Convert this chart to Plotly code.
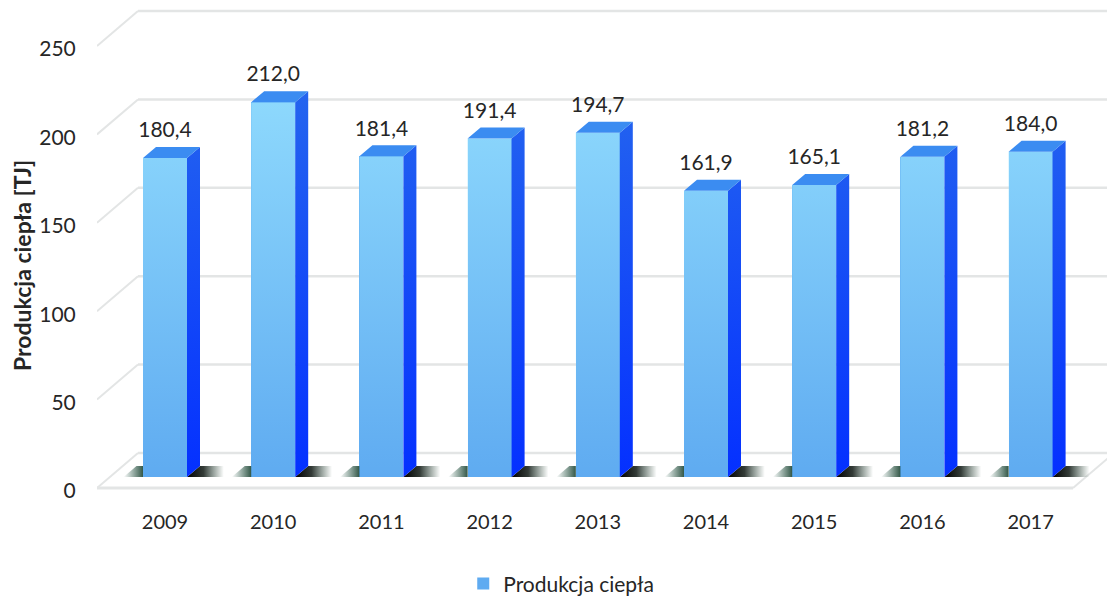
import plotly.graph_objects as go

# ---------------- data ----------------
years = ["2009", "2010", "2011", "2012", "2013", "2014", "2015", "2016", "2017"]
values = [180.4, 212.0, 181.4, 191.4, 194.7, 161.9, 165.1, 181.2, 184.0]
value_labels = ["180,4", "212,0", "181,4", "191,4", "194,7", "161,9", "165,1", "181,2", "184,0"]
y_ticks = [0, 50, 100, 150, 200, 250]
series_name = "Produkcja ciepła"
y_title = "Produkcja ciepła [TJ]"

# ---------------- geometry / style ----------------
PX_X = 108.2          # pixels per category
PX_Y = 1.768          # pixels per unit
BAR_W = 44 / PX_X     # bar width in category units
DX = 13 / PX_X        # bar depth (x)
DY = 11 / PX_Y        # bar depth (y)
BACK_DY = 24 / PX_Y   # back wall offset vs bar plane
FRONT_DY = -11 / PX_Y # floor front offset vs bar plane
LABEL_SHIFT = 14 / PX_Y
FONT = "Lato"
TXT = "#262626"

x_pos = list(range(len(years)))
x_min = (97 - 165) / PX_X
x_max = (1107 - 165) / PX_X
plot_h = 602 - 110
y_min = -(plot_h - 477) / PX_Y
y_max = 477 / PX_Y

xl_front = x_min
xl_back = x_min + (41 / PX_X)
xr_front = (1073 - 165) / PX_X
xr_back = xr_front + 41 / PX_X

fig = go.Figure()

# ---------------- walls & floor (shapes below traces) ----------------
grid_col = "#e3e5e5"
shapes = []
for v in y_ticks:
    shapes.append(dict(type="line", xref="x", yref="y", layer="below",
                       x0=xl_back, y0=v + BACK_DY, x1=xr_back, y1=v + BACK_DY,
                       line=dict(color=grid_col, width=2.5)))
    shapes.append(dict(type="line", xref="x", yref="y", layer="below",
                       x0=xl_front, y0=v + FRONT_DY, x1=xl_back, y1=v + BACK_DY,
                       line=dict(color=grid_col, width=2)))
shapes.append(dict(type="line", xref="x", yref="y", layer="below",
                   x0=xl_front, y0=FRONT_DY, x1=xr_front, y1=FRONT_DY,
                   line=dict(color=grid_col, width=3)))
shapes.append(dict(type="line", xref="x", yref="y", layer="below",
                   x0=xr_front, y0=FRONT_DY, x1=xr_back, y1=BACK_DY,
                   line=dict(color=grid_col, width=2)))

# ---------------- floor shadows ----------------
for xi in x_pos:
    xr = xi + BAR_W / 2
    xl = xi - BAR_W / 2
    L = 0.34
    fig.add_trace(go.Scatter(
        x=[xr, xr + DX, xr + DX + L, xr + L, xr],
        y=[0, DY, DY, 0, 0],
        mode="lines", line=dict(width=0), fill="toself",
        fillgradient=dict(type="horizontal", start=xr, stop=xr + L,
                          colorscale=[[0, "rgb(0,0,0)"], [0.45, "rgba(0,10,5,0.8)"],
                                      [1, "rgba(0,40,20,0)"]]),
        hoverinfo="skip", showlegend=False))
    L2 = 0.18
    fig.add_trace(go.Scatter(
        x=[xl - L2, xl, xl, xl - L2 + DX, xl - L2],
        y=[0, 0, DY, DY, 0],
        mode="lines", line=dict(width=0), fill="toself",
        fillgradient=dict(type="horizontal", start=xl - L2, stop=xl,
                          colorscale=[[0, "rgba(0,60,40,0)"], [1, "rgba(0,45,25,0.8)"]]),
        hoverinfo="skip", showlegend=False))

# ---------------- bars (front faces) ----------------
fig.add_trace(go.Bar(
    x=x_pos, y=values, width=BAR_W, name=series_name,
    marker=dict(color="#5fabf1", line=dict(width=0)),
    hovertemplate="%{y}<extra></extra>"))

# front-face gradient highlight
fx, fy = [], []
for xi, v in zip(x_pos, values):
    xl, xr = xi - BAR_W / 2, xi + BAR_W / 2
    fx += [xl, xr, xr, xl, xl, None]
    fy += [0, 0, v, v, 0, None]
fig.add_trace(go.Scatter(
    x=fx, y=fy, mode="lines", line=dict(width=0), fill="toself",
    fillgradient=dict(type="vertical", start=0, stop=215,
                      colorscale=[[0, "rgba(150,225,255,0)"], [1, "rgba(150,225,255,0.85)"]]),
    hoverinfo="skip", showlegend=False))

# side faces
sx, sy = [], []
for xi, v in zip(x_pos, values):
    xr = xi + BAR_W / 2
    sx += [xr, xr + DX, xr + DX, xr, xr, None]
    sy += [0, DY, v + DY, v, 0, None]
fig.add_trace(go.Scatter(
    x=sx, y=sy, mode="lines", line=dict(width=0), fill="toself",
    fillgradient=dict(type="vertical", start=0, stop=215,
                      colorscale=[[0, "#0430ff"], [1, "#2464ef"]]),
    hoverinfo="skip", showlegend=False))

# top faces
tx, ty = [], []
for xi, v in zip(x_pos, values):
    xl, xr = xi - BAR_W / 2, xi + BAR_W / 2
    tx += [xl, xr, xr + DX, xl + DX, xl, None]
    ty += [v, v, v + DY, v + DY, v, None]
fig.add_trace(go.Scatter(
    x=tx, y=ty, mode="lines", line=dict(width=0), fill="toself",
    fillcolor="#3b8cf1", hoverinfo="skip", showlegend=False))

# value labels
fig.add_trace(go.Scatter(
    x=x_pos, y=[v + 26 / PX_Y for v in values], mode="text",
    text=value_labels, textposition="middle center",
    textfont=dict(family=FONT, size=21, color=TXT),
    hoverinfo="skip", showlegend=False, cliponaxis=False))

# anchor trace for the tick-label axis
fig.add_trace(go.Scatter(
    x=[x_pos[0]], y=[y_ticks[0]], yaxis="y2", mode="markers",
    marker=dict(opacity=0), hoverinfo="skip", showlegend=False))

fig.update_layout(
    width=1107, height=602,
    margin=dict(l=97, r=0, t=0, b=110),
    paper_bgcolor="white", plot_bgcolor="white",
    font=dict(family=FONT, color=TXT),
    shapes=shapes,
    bargap=0,
    xaxis=dict(range=[x_min, x_max], tickvals=x_pos, ticktext=years,
               showgrid=False, zeroline=False, showline=False,
               ticks="outside", ticklen=12, tickcolor="rgba(0,0,0,0)",
               tickfont=dict(family=FONT, size=20, color=TXT)),
    yaxis=dict(range=[y_min, y_max], showgrid=False, zeroline=False,
               showline=False, showticklabels=False, ticks=""),
    yaxis2=dict(range=[y_min + LABEL_SHIFT, y_max + LABEL_SHIFT], overlaying="y",
                side="left", tickvals=y_ticks, showgrid=False, zeroline=False,
                showline=False, ticks="outside", ticklen=16,
                tickcolor="rgba(0,0,0,0)",
                tickfont=dict(family=FONT, size=21, color=TXT)),
    showlegend=True,
    legend=dict(orientation="h", xref="container", yref="container",
                x=0.507, y=0.03, xanchor="center", yanchor="middle",
                itemwidth=30,
                font=dict(family=FONT, size=21, color=TXT)),
    annotations=[dict(text="<b>" + y_title + "</b>", xref="paper", yref="paper",
                      x=(22 - 97) / 1010, y=1 - 266 / plot_h, textangle=-90,
                      showarrow=False, xanchor="center", yanchor="middle",
                      font=dict(family=FONT, size=23, color=TXT))],
)

fig.write_html("out.html", config={"displayModeBar": False},
               post_script="document.body.style.margin='0';document.body.style.padding='0';")
